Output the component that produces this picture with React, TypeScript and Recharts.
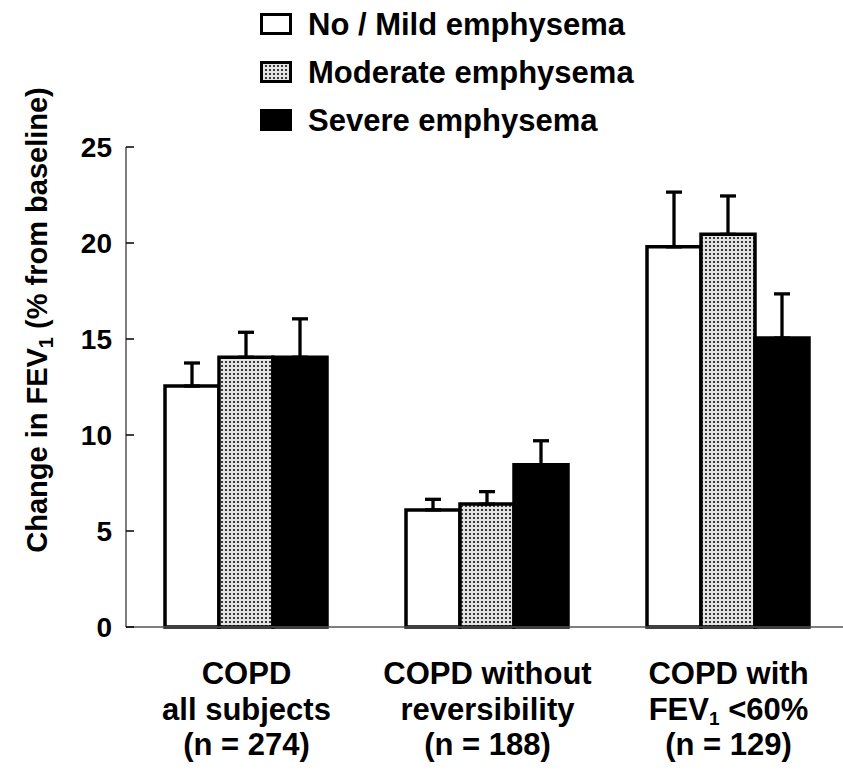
import React from 'react';
import { BarChart, Bar, XAxis, YAxis, ErrorBar, Legend, Label } from 'recharts';

// ---- data ----
const categories = [
  'COPD|all subjects|(n = 274)',
  'COPD without|reversibility|(n = 188)',
  'COPD with|FEV_1 <60%|(n = 129)',
];
const noMild = [12.55, 6.1, 19.8];
const noMildErr = [1.2, 0.55, 2.85];
const moderate = [14.05, 6.4, 20.45];
const moderateErr = [1.3, 0.65, 2.0];
const severe = [14.05, 8.45, 15.05];
const severeErr = [2.0, 1.25, 2.3];
const seriesNames = ['No / Mild emphysema', 'Moderate emphysema', 'Severe emphysema'];
const yTicks = [0, 5, 10, 15, 20, 25];
const boundaryTicks = [1, 2];
const yLabelText = 'Change in FEV_1 (% from baseline)';

const data = categories.map((c, i) => ({
  cat: c,
  a: noMild[i],
  aErr: [0, noMildErr[i]],
  b: moderate[i],
  bErr: [0, moderateErr[i]],
  c: severe[i],
  cErr: [0, severeErr[i]],
}));

const FONT = '"Liberation Sans", Arial, Helvetica, sans-serif';

const withSub = (s: string, subSize: number, shift: number) => {
  const parts = s.split('_1');
  if (parts.length === 1) return s;
  return (
    <>
      <tspan>{parts[0]}</tspan>
      <tspan fontSize={subSize} dy={shift}>1</tspan>
      <tspan dy={-shift}>{parts[1]}</tspan>
    </>
  );
};

const CatTick = (props: any) => {
  const { x, y, payload } = props;
  const lines = String(payload.value).split('|');
  return (
    <g>
      {lines.map((ln, i) => (
        <text
          key={i}
          x={x}
          y={y + 57 + i * 35.5}
          textAnchor="middle"
          fontFamily={FONT}
          fontWeight="bold"
          fontSize={31}
          fill="#000"
        >
          {withSub(ln, 19, 5)}
        </text>
      ))}
    </g>
  );
};

const fills = ['#ffffff', 'url(#dotsLegend)', '#000000'];

const LegendContent = () => (
  <div style={{ position: 'relative', width: 0, height: 0 }}>
    <svg
      width={843}
      height={150}
      style={{ position: 'absolute', left: 0, top: 0, overflow: 'visible' }}
    >
      <defs>
        <pattern id="dotsLegend" width="4" height="4" patternUnits="userSpaceOnUse">
          <rect width="4" height="4" fill="#e4e4e4" />
          <circle cx="2" cy="2" r="1.1" fill="#111" />
        </pattern>
      </defs>
      {seriesNames.map((n, i) => (
        <g key={n}>
          <rect
            x={261.5}
            y={14.5 + i * 48}
            width={29}
            height={19}
            fill={fills[i]}
            stroke="#000"
            strokeWidth={3}
          />
          <text
            x={308}
            y={35 + i * 48}
            fontFamily={FONT}
            fontWeight="bold"
            fontSize={31}
            fill="#000"
          >
            {n}
          </text>
        </g>
      ))}
    </svg>
  </div>
);

const YLabel = () => (
  <text
    x={47}
    y={320}
    transform="rotate(-90, 47, 320)"
    textAnchor="middle"
    fontFamily={FONT}
    fontWeight="bold"
    fontSize={29}
    fill="#000"
  >
    {withSub(yLabelText, 20, 6)}
  </text>
);

export default function App() {
  return (
    <div
      style={{
        position: 'absolute',
        left: 0,
        top: 0,
        width: 843,
        height: 770,
        overflow: 'hidden',
        background: '#fff',
      }}
    >
      <BarChart
        width={880}
        height={770}
        data={data}
        margin={{ top: 147, right: 31, bottom: 0, left: 0 }}
        barCategoryGap={39}
        barGap={0}
      >
        <defs>
          <pattern id="dotsBar" width="4" height="4" patternUnits="userSpaceOnUse">
            <rect width="4" height="4" fill="#e4e4e4" />
            <circle cx="2" cy="2" r="1.1" fill="#111" />
          </pattern>
        </defs>
        <XAxis
          xAxisId="grid"
          type="number"
          domain={[0, 3]}
          ticks={boundaryTicks}
          allowDataOverflow
          height={0}
          axisLine={false}
          tick={false}
          tickSize={-8}
          tickLine={{ stroke: '#000', strokeWidth: 1.5 }}
        />
        <XAxis
          dataKey="cat"
          height={143}
          tickLine={false}
          tickSize={0}
          tickMargin={0}
          interval={0}
          axisLine={{ stroke: '#555', strokeWidth: 1.5 }}
          tick={<CatTick />}
        />
        <YAxis
          width={126}
          domain={[0, 25]}
          ticks={yTicks}
          interval={0}
          tickSize={-8}
          tickMargin={22}
          axisLine={{ stroke: '#555', strokeWidth: 1.5 }}
          tickLine={{ stroke: '#000', strokeWidth: 1.5 }}
          tick={{ fill: '#000', fontSize: 28, fontWeight: 'bold', fontFamily: FONT }}
        >
          <Label content={<YLabel />} />
        </YAxis>
        <Legend content={<LegendContent />} wrapperStyle={{ top: 0, left: 0, width: 0, height: 0 }} />
        <Bar dataKey="a" name={seriesNames[0]} fill="#ffffff" stroke="#000" strokeWidth={3.5} isAnimationActive={false}>
          <ErrorBar dataKey="aErr" direction="y" width={8} stroke="#000" strokeWidth={3.3} isAnimationActive={false} />
        </Bar>
        <Bar dataKey="b" name={seriesNames[1]} fill="url(#dotsBar)" stroke="#000" strokeWidth={3.5} isAnimationActive={false}>
          <ErrorBar dataKey="bErr" direction="y" width={8} stroke="#000" strokeWidth={3.3} isAnimationActive={false} />
        </Bar>
        <Bar dataKey="c" name={seriesNames[2]} fill="#000000" stroke="#000" strokeWidth={3.5} isAnimationActive={false}>
          <ErrorBar dataKey="cErr" direction="y" width={8} stroke="#000" strokeWidth={3.3} isAnimationActive={false} />
        </Bar>
      </BarChart>
    </div>
  );
}
